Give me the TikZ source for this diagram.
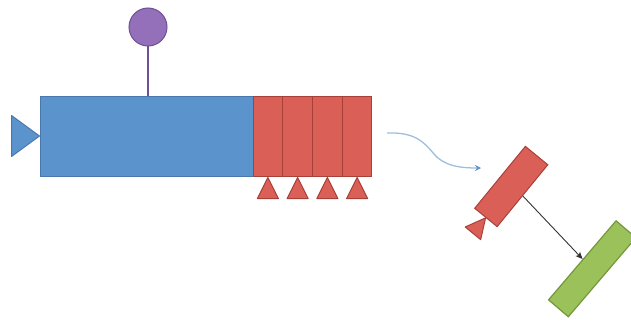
\documentclass[tikz,border=0pt]{standalone}
\usetikzlibrary{shapes.geometric,arrows.meta,calc}
\definecolor{bfill}{HTML}{5B93CD}
\definecolor{bline}{HTML}{4A78AC}
\definecolor{rfill}{HTML}{DA5F57}
\definecolor{rline}{HTML}{A8403A}
\definecolor{pfill}{HTML}{9470BA}
\definecolor{pline}{HTML}{6E4F93}
\definecolor{gfill}{HTML}{9BC25A}
\definecolor{gline}{HTML}{75973B}
\definecolor{wave}{HTML}{9DBEE0}
\definecolor{wavetip}{HTML}{5B93CD}
\tikzset{
  bluebox/.style={draw=bline, fill=bfill, line width=1pt, inner sep=0pt, minimum height=80pt},
  redcell/.style={draw=rline, fill=rfill, line width=1pt, inner sep=0pt, minimum height=80pt, minimum width=29.75pt},
  redtri/.style={draw=rline, fill=rfill, line width=1pt, line join=round},
  bluetri/.style={draw=bline, fill=bfill, line width=1pt, line join=round},
  ballstyle/.style={circle, draw=pline, fill=pfill, line width=1pt, minimum size=38pt, inner sep=0pt},
  stem/.style={draw=pline, line width=1.5pt},
  greencyl/.style={cylinder, draw=gline, fill=gfill, line width=1.2pt, minimum height=104pt, minimum width=26pt, aspect=0.35, shape border rotate=0, inner sep=0pt},
  wavy/.style={draw=wave, line width=1.3pt, -{Stealth[length=6pt, width=6pt, color=wavetip]}},
  link/.style={draw=black!80, line width=0.9pt, -{Stealth[length=7pt, width=6pt, inset=1.5pt]}}
}
\begin{document}
\begin{tikzpicture}[x=1pt, y=-1pt]
\useasboundingbox (0,0) rectangle (631,321);
\clip (0,0) rectangle (631,321);
% main body
\node[bluebox, minimum width=213pt] (body) at (146.5,136) {};
\node[redcell] (c1) at (267.9,136) {};
\node[redcell] (c2) at (297.6,136) {};
\node[redcell] (c3) at (327.4,136) {};
\node[redcell] (c4) at (357.1,136) {};
% left triangle
\coordinate (lt) at (body.west);
\filldraw[bluetri] (lt) -- ($(lt)+(-28,-20.5)$) -- ($(lt)+(-28,20.5)$) -- cycle;
% triangles below red cells
\foreach \c in {c1,c2,c3,c4}{
  \filldraw[redtri] ($(\c.south)+(0,1)$) -- ($(\c.south)+(-10.5,22)$) -- ($(\c.south)+(10.5,22)$) -- cycle;
}
% ball and stem
\node[ballstyle] (ball) at (148,27) {};
\draw[stem] (ball.south) -- (ball.south |- body.north);
% wavy arrow
\coordinate (w1) at (387,133);
\coordinate (w2) at (481,168);
\draw[wavy] (w1) .. controls (415,132) and (424,142) .. (434,154) .. controls (444,166) and (460,168) .. (w2);
% rotated red rect
\node[draw=rline, fill=rfill, line width=1pt, inner sep=0pt, minimum width=80pt, minimum height=29pt, rotate=50.7] (rr) at (511.25,186.5) {};
\coordinate (tb) at ($(rr.west)!-20pt!(rr.east)$);
\filldraw[redtri] (rr.west) -- ($(tb)!10pt!90:(rr.west)$) -- ($(tb)!10pt!-90:(rr.west)$) -- cycle;
% green cylinder
\node[greencyl, rotate=49.5] (cyl) at (592,269) {};
% black arrow
\draw[link] (rr.south) -- (cyl);
\end{tikzpicture}
\end{document}
